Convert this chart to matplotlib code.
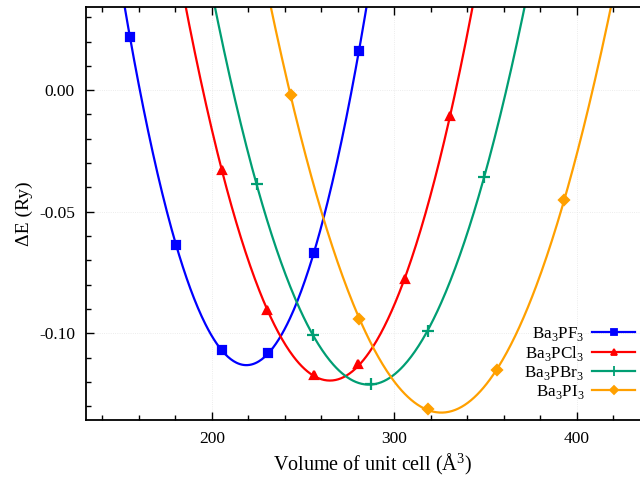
import matplotlib
matplotlib.use("Agg")
import matplotlib.pyplot as plt
import numpy as np
from matplotlib.ticker import MultipleLocator

plt.rcParams['font.family'] = ['Liberation Serif', 'DejaVu Serif']
plt.rcParams['mathtext.fontset'] = 'custom'
plt.rcParams['mathtext.rm'] = 'Liberation Serif'

# volume (A^3) / dE (Ry)
v_pf3 = [155.1, 180.3, 205.5, 230.7, 255.9, 280.5]
e_pf3 = [0.0218, -0.0638, -0.1070, -0.1082, -0.0671, 0.0160]

v_pcl3 = [205.5, 230.1, 255.9, 280.3, 305.8, 330.4]
e_pcl3 = [-0.0329, -0.0905, -0.1173, -0.1128, -0.0778, -0.0107]

v_pbr3 = [224.5, 255.3, 287.1, 318.2, 349.2]
e_pbr3 = [-0.0388, -0.1008, -0.1210, -0.0990, -0.0357]

v_pi3 = [243.1, 280.7, 318.2, 356.0, 393.0]
e_pi3 = [-0.0021, -0.0940, -0.1313, -0.1152, -0.0453]

labels = [r'Ba$_3$PF$_3$', r'Ba$_3$PCl$_3$', r'Ba$_3$PBr$_3$', r'Ba$_3$PI$_3$']
colors = ['#0000ff', '#ff0000', '#009e73', '#ffa000']
markers = ['s', '^', '+', 'D']
sizes = [6, 6, 9, 5]

fig = plt.figure(figsize=(6.4, 4.79), dpi=100)
ax = fig.add_axes([0.1344, 0.1232, 0.8953, 0.8622])

series = [(v_pf3, e_pf3), (v_pcl3, e_pcl3), (v_pbr3, e_pbr3), (v_pi3, e_pi3)]
for (v, e), lab, c, m, s in zip(series, labels, colors, markers, sizes):
    v = np.array(v)
    e = np.array(e)
    # smooth fit through the points, like the original E(V) curves
    coef = np.polyfit(v, e, 3)
    xs = np.linspace(v.min() - 40, v.max() + 40, 400)
    ax.plot(xs, np.polyval(coef, xs), color=c, lw=1.6)
    ax.plot(v, e, linestyle='none', marker=m, color=c, ms=s, mew=1.6)
    ax.plot([], [], color=c, lw=1.6, marker=m, ms=s * 0.75, mew=1.3, label=lab)

ax.set_xlim(131, 445)
ax.set_ylim(-0.1357, 0.0342)
ax.xaxis.set_major_locator(MultipleLocator(100))
ax.xaxis.set_minor_locator(MultipleLocator(20))
ax.yaxis.set_major_locator(MultipleLocator(0.05))
ax.yaxis.set_minor_locator(MultipleLocator(0.01))
ax.yaxis.set_major_formatter(plt.FuncFormatter(lambda y, p: '%.2f' % y))
ax.tick_params(which='both', direction='in', top=True, right=True, labelsize=12.5, width=1)
ax.tick_params(which='major', length=6, pad=8)
ax.tick_params(which='minor', length=3.5)
ax.grid(True, which='major', color='#e6e6e6', lw=0.6, ls=':')
for sp in ax.spines.values():
    sp.set_linewidth(1.3)

ax.set_xlabel('Volume of unit cell (Å$^3$)', fontsize=14.5, labelpad=3)
ax.set_ylabel('ΔE (Ry)', fontsize=14, labelpad=4)

leg = ax.legend(loc='lower right', bbox_to_anchor=(0.958, 0.046), frameon=False,
                markerfirst=False, fontsize=12.3, handlelength=2.5,
                labelspacing=0.05, handletextpad=0.45, borderaxespad=0, borderpad=0)

fig.savefig('out.png', dpi=100)
